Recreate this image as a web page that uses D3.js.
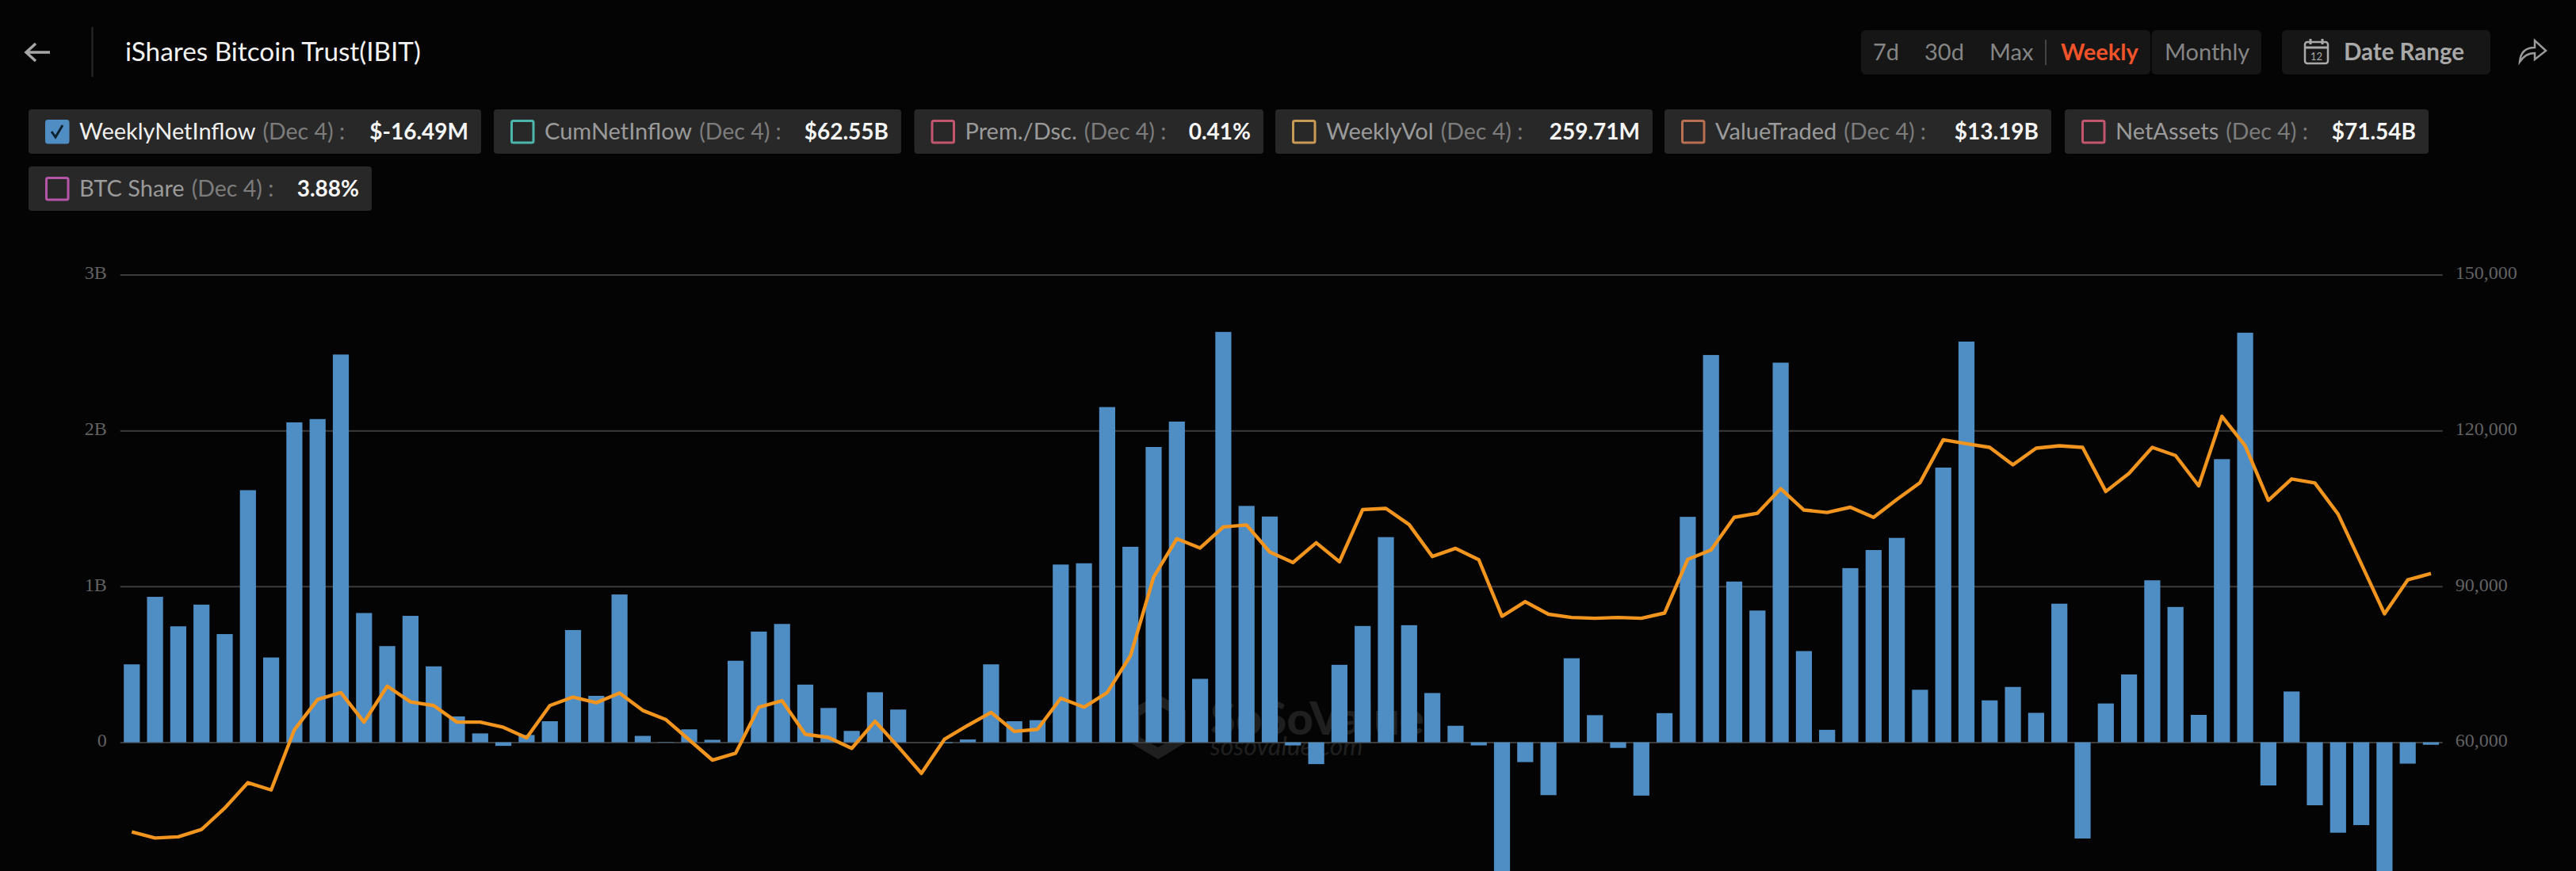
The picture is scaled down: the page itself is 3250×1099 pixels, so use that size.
<!DOCTYPE html>
<html>
<head>
<meta charset="utf-8">
<title>iShares Bitcoin Trust(IBIT)</title>
<script src="https://cdn.jsdelivr.net/npm/d3@7"></script>
<style>
    html, body { margin: 0; padding: 0; background: #040404; overflow: hidden; }
    svg { display: block; }
    text { font-family: Lato, "Open Sans", sans-serif; }
    .axis text { font-family: "Liberation Serif", serif; font-size: 24px; fill: #626262; }
    .axis path { display: none; }
    .axis line { stroke: #3b3b3b; stroke-width: 2px; }
</style>
</head>
<body>
<div id="chart"></div>
<script>
// one entry per week, IBIT launch to Dec 4. values in $B
const netInflow = [
    0.50, 0.933, 0.744, 0.883, 0.694, 1.617, 0.544, 2.052, 2.073, 2.487,
    0.829, 0.617, 0.811, 0.487, 0.166, 0.057, -0.023, 0.047, 0.135, 0.72,
    0.298, 0.948, 0.041, 0.002, 0.083, 0.016, 0.523, 0.71, 0.759, 0.37,
    0.22, 0.073, 0.321, 0.21, 0, -0.005, 0.018, 0.5, 0.135, 0.142,
    1.14, 1.148, 2.15, 1.254, 1.894, 2.057, 0.407, 2.632, 1.516, 1.448,
    -0.02, -0.14, 0.497, 0.746, 1.316, 0.751, 0.316, 0.106, -0.02, -0.9,
    -0.127, -0.339, 0.539, 0.174, -0.036, -0.342, 0.187, 1.446, 2.484, 1.031,
    0.845, 2.435, 0.585, 0.08, 1.117, 1.233, 1.311, 0.337, 1.762, 2.57,
    0.269, 0.355, 0.189, 0.889, -0.617, 0.249, 0.435, 1.039, 0.868, 0.176,
    1.816, 2.627, -0.277, 0.326, -0.404, -0.58, -0.531, -0.9, -0.137, -0.016
];

// BTC price, right axis
const btcPrice = [
    42750, 41580, 41810, 43210, 47330, 52230, 50830, 62410, 68240, 69560,
    63890, 70800, 67770, 67070, 63890, 63890, 62880, 60860, 67070, 68700,
    67620, 69480, 66140, 64350, 60470, 56580, 57900, 66760, 68000, 61550,
    60930, 58830, 64040, 59150, 54020, 60620, 63260, 65750, 62100, 62490,
    68470, 66760, 69560, 76630, 91790, 99170, 97380, 101430, 101810, 96610,
    94590, 98390, 94740, 104770, 105000, 101890, 95750, 97310, 95130, 84250,
    87050, 84640, 84020, 83860, 84020, 83860, 84870, 95210, 97000, 103290,
    104070, 108810, 104690, 104220, 105230, 103290, 106710, 109970, 118210, 117440,
    116740, 113390, 116580, 117050, 116740, 108260, 111760, 116740, 115180, 109350,
    122720, 117050, 106550, 110670, 109900, 103910, 94350, 84720, 91240, 92490
];

const leftTicks = [0, 1, 2, 3];
const leftLabels = ["0", "1B", "2B", "3B"];
const rightTicks = [60000, 90000, 120000, 150000];

const legendNames = ["WeeklyNetInflow", "CumNetInflow", "Prem./Dsc.", "WeeklyVol", "ValueTraded", "NetAssets", "BTC Share"];
const legendValues = ["$-16.49M", "$62.55B", "0.41%", "259.71M", "$13.19B", "$71.54B", "3.88%"];
const legendColors = ["#4f8dc3", "#4db6ac", "#c2566f", "#c99a55", "#b86f52", "#c2566f", "#b455a8"];
const legendDate = "(Dec 4) :";
const legendLeft = [36, 623, 1153.5, 1609, 2100, 2605, 36];
const legendRight = [607, 1137, 1594, 2085, 2588, 3064, 469];

const width = 3250, height = 1099;

const svg = d3.select("#chart").append("svg")
    .attr("width", width)
    .attr("height", height);

svg.append("rect").attr("width", width).attr("height", height).attr("fill", "#040404");

// scales
const x = d3.scaleBand()
    .domain(d3.range(netInflow.length))
    .range([151.65, 3081.65])
    .paddingInner(0.31)
    .paddingOuter(0.155);
const y = d3.scaleLinear().domain([0, 3]).range([936.6, 346.4]);
const yPrice = d3.scaleLinear().domain([60000, 150000]).range([936.6, 346.4]);

// watermark sits behind the marks
const mark = svg.append("g").attr("opacity", 0.34);
mark.append("path")
    .attr("d", "M1461 876 L1496 896 L1496 937 L1461 958 L1426 937 L1426 896 Z M1461 890 L1484 903 L1484 930 L1461 943 L1438 930 L1438 903 Z")
    .attr("fill", "#555")
    .attr("fill-rule", "evenodd");
mark.append("text")
    .attr("x", 1527).attr("y", 927)
    .attr("font-size", 58).attr("font-weight", 900).attr("fill", "#555")
    .text("SoSoValue");
mark.append("text")
    .attr("x", 1527).attr("y", 953)
    .attr("font-size", 32).attr("font-style", "italic").attr("fill", "#555")
    .text("sosovalue.com");

// axes, the left one also draws the grid lines
svg.append("g")
    .attr("class", "axis")
    .attr("transform", "translate(151.65,0)")
    .call(d3.axisLeft(y).tickValues(leftTicks).tickSize(-2930).tickPadding(17)
        .tickFormat((d, i) => leftLabels[i]))
    .selectAll("text").attr("dy", "0.22em");

svg.append("g")
    .attr("class", "axis")
    .attr("transform", "translate(3081.65,0)")
    .call(d3.axisRight(yPrice).tickValues(rightTicks).tickSize(0).tickPadding(16)
        .tickFormat(d3.format(",")))
    .selectAll("text").attr("dy", "0.22em");

// bars
svg.append("g").selectAll("rect")
    .data(netInflow)
    .join("rect")
    .attr("x", (d, i) => x(i))
    .attr("width", x.bandwidth())
    .attr("y", d => y(Math.max(d, 0)))
    .attr("height", d => Math.abs(y(d) - y(0)))
    .attr("fill", "#4f8ec4");

// price line
const line = d3.line()
    .x((d, i) => x(i) + x.bandwidth() / 2)
    .y(d => yPrice(d));

svg.append("path")
    .datum(btcPrice)
    .attr("d", line)
    .attr("fill", "none")
    .attr("stroke", "#f2951f")
    .attr("stroke-width", 4.4)
    .attr("stroke-linejoin", "round");

// header
svg.append("path")
    .attr("d", "M63 66 H34 M45 55 L33 66 L45 77")
    .attr("fill", "none").attr("stroke", "#a6a6a6").attr("stroke-width", 3.5);
svg.append("line")
    .attr("x1", 116.5).attr("x2", 116.5).attr("y1", 34).attr("y2", 97)
    .attr("stroke", "#2a2a2a").attr("stroke-width", 2);
svg.append("text")
    .attr("x", 158).attr("y", 77)
    .attr("font-size", 33.3).attr("fill", "#f2f2f2")
    .text("iShares Bitcoin Trust(IBIT)");

// period buttons
const boxes = [[2348, 365], [2714.5, 138.5], [2879, 263]];
svg.append("g").selectAll("rect")
    .data(boxes)
    .join("rect")
    .attr("x", d => d[0]).attr("y", 38)
    .attr("width", d => d[1]).attr("height", 56)
    .attr("rx", 6)
    .attr("fill", "#161616");

const periodNames = ["7d", "30d", "Max", "Weekly", "Monthly"];
const periodLeft = [2363, 2428, 2510, 2600, 2731];
svg.append("g").selectAll("text")
    .data(periodNames)
    .join("text")
    .attr("x", (d, i) => periodLeft[i]).attr("y", 76)
    .attr("font-size", 29)
    .attr("font-weight", d => d === "Weekly" ? 700 : 400)
    .attr("fill", d => d === "Weekly" ? "#f0532a" : "#858585")
    .text(d => d);
svg.append("line")
    .attr("x1", 2581).attr("x2", 2581).attr("y1", 50).attr("y2", 82)
    .attr("stroke", "#444").attr("stroke-width", 2);

// calendar icon
svg.append("rect")
    .attr("x", 2908).attr("y", 53).attr("width", 29).attr("height", 27).attr("rx", 3)
    .attr("fill", "none").attr("stroke", "#aaa").attr("stroke-width", 2.5);
svg.append("path")
    .attr("d", "M2908 60 H2937 M2915 49 V56 M2930 49 V56")
    .attr("fill", "none").attr("stroke", "#aaa").attr("stroke-width", 3);
svg.append("text")
    .attr("x", 2922.5).attr("y", 76).attr("text-anchor", "middle")
    .attr("font-size", 13).attr("fill", "#aaa")
    .text("12");
svg.append("text")
    .attr("x", 2957).attr("y", 76)
    .attr("font-size", 29.5).attr("font-weight", 700).attr("fill", "#a8a8a8")
    .text("Date Range");

// share icon
svg.append("path")
    .attr("d", "M3179 78 C3180 66 3187 60 3198 60 L3198 51 L3212 64 L3198 75 L3198 67 C3189 67 3184 71 3179 78 Z")
    .attr("fill", "none").attr("stroke", "#9a9a9a").attr("stroke-width", 2.5);

// legend chips
const chips = svg.append("g").selectAll("g")
    .data(legendNames)
    .join("g")
    .attr("transform", (d, i) => `translate(${legendLeft[i]}, ${i === 6 ? 210 : 138})`);

chips.append("rect")
    .attr("width", (d, i) => legendRight[i] - legendLeft[i])
    .attr("height", 56)
    .attr("rx", 4)
    .attr("fill", "#282828");

chips.append("rect")
    .attr("x", 22.5).attr("y", 14.5)
    .attr("width", 27.5).attr("height", 27.5)
    .attr("rx", 2)
    .attr("fill", (d, i) => i === 0 ? legendColors[i] : "none")
    .attr("stroke", (d, i) => legendColors[i])
    .attr("stroke-width", 3);

chips.filter((d, i) => i === 0).append("path")
    .attr("d", "M29 28 L34 35 L43 20")
    .attr("fill", "none").attr("stroke", "#10222f").attr("stroke-width", 3);

chips.append("text")
    .attr("x", 64).attr("y", 38)
    .attr("font-size", 29)
    .attr("fill", (d, i) => i === 0 ? "#efefef" : "#9a9a9a")
    .text(d => d)
  .append("tspan")
    .attr("dx", 9)
    .attr("fill", "#7c7c7c")
    .attr("font-size", 28.5)
    .text(legendDate);

chips.append("text")
    .attr("x", (d, i) => legendRight[i] - legendLeft[i] - 16)
    .attr("y", 38)
    .attr("text-anchor", "end")
    .attr("font-size", 28).attr("font-weight", 700).attr("fill", "#f5f5f5")
    .text((d, i) => legendValues[i]);
</script>
</body>
</html>
